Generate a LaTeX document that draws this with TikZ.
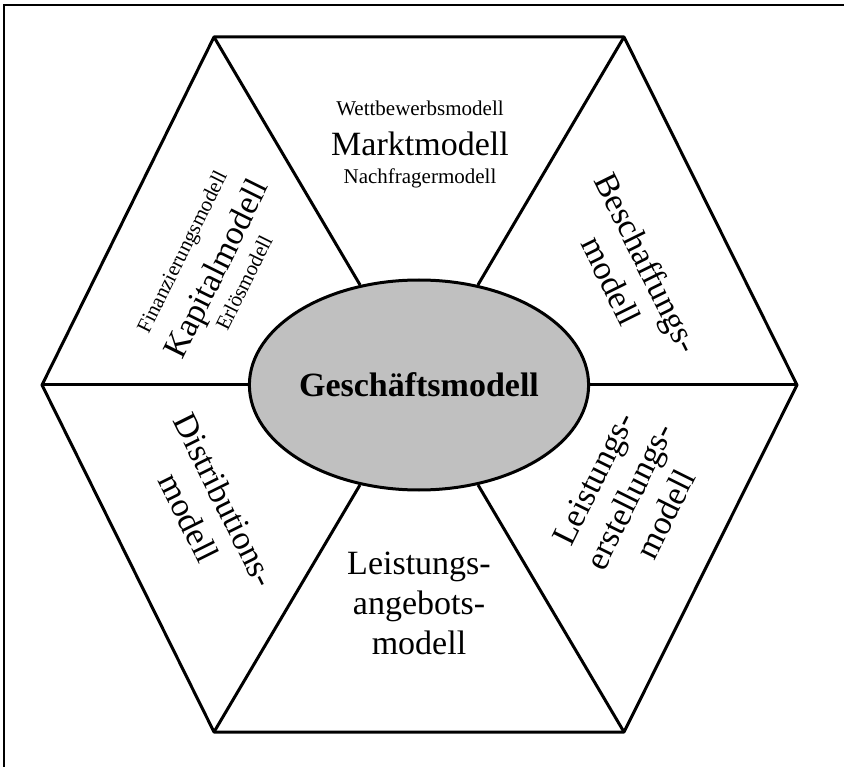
\documentclass[tikz,border=0pt]{standalone}
\usepackage{fontspec}
\setmainfont{Liberation Serif}
\usetikzlibrary{shapes.geometric}
\definecolor{coregray}{RGB}{192,192,192}

\begin{document}
\begin{tikzpicture}[x=1pt, y=-1pt,
    hexline/.style={line width=3pt, line join=round},
    core/.style={ellipse, draw, line width=3pt, fill=coregray, minimum width=324pt, minimum height=210pt, inner sep=0pt, font=\fontsize{34}{40}\selectfont\bfseries},
    bigtext/.style={font=\fontsize{34}{40}\selectfont, align=center, inner sep=0pt},
    smalltext/.style={font=\fontsize{21}{25}\selectfont, inner sep=0pt}
  ]
  \useasboundingbox (0,0) rectangle (844,767);
  \draw[line width=2pt] (844,5) -- (4,5) -- (4,767);

  \coordinate (hexNW) at (214,37);
  \coordinate (hexNE) at (624,37);
  \coordinate (hexE) at (797,385);
  \coordinate (hexSE) at (624,732);
  \coordinate (hexSW) at (214,732);
  \coordinate (hexW) at (42,385);
  \draw[hexline] (hexNW) -- (hexNE) -- (hexE) -- (hexSE) -- (hexSW) -- (hexW) -- cycle;

  \node[core] (kern) at (419,385) {Geschäftsmodell};
  \foreach \v in {hexNW, hexNE, hexE, hexSE, hexSW, hexW}
    \draw[hexline] (\v) -- (kern);

  \node[smalltext] (wettbewerb) at (420,108.6) {Wettbewerbsmodell};
  \node[bigtext] (markt) at (420,143.5) {Marktmodell};
  \node[smalltext] (nachfrager) at (420,178) {Nachfragermodell};

  \node[smalltext, rotate=63.6] (finanzierung) at (183.6,252.7) {Finanzierungsmodell};
  \node[bigtext, rotate=63.6] (kapital) at (218.5,270) {Kapitalmodell};
  \node[smalltext, rotate=63.6] (erloes) at (243.9,282.6) {Erlösmodell};

  \node[bigtext, rotate=-63.6] (beschaffung) at (629.5,271.5) {Beschaffungs-\\modell};
  \node[bigtext, rotate=63.6] (erstellung) at (629.5,496.5) {Leistungs-\\erstellungs-\\modell};
  \node[bigtext] (angebot) at (419,603) {Leistungs-\\angebots-\\modell};
  \node[bigtext, rotate=-63.6] (distribution) at (207,509) {Distributions-\\modell};
\end{tikzpicture}
\end{document}
